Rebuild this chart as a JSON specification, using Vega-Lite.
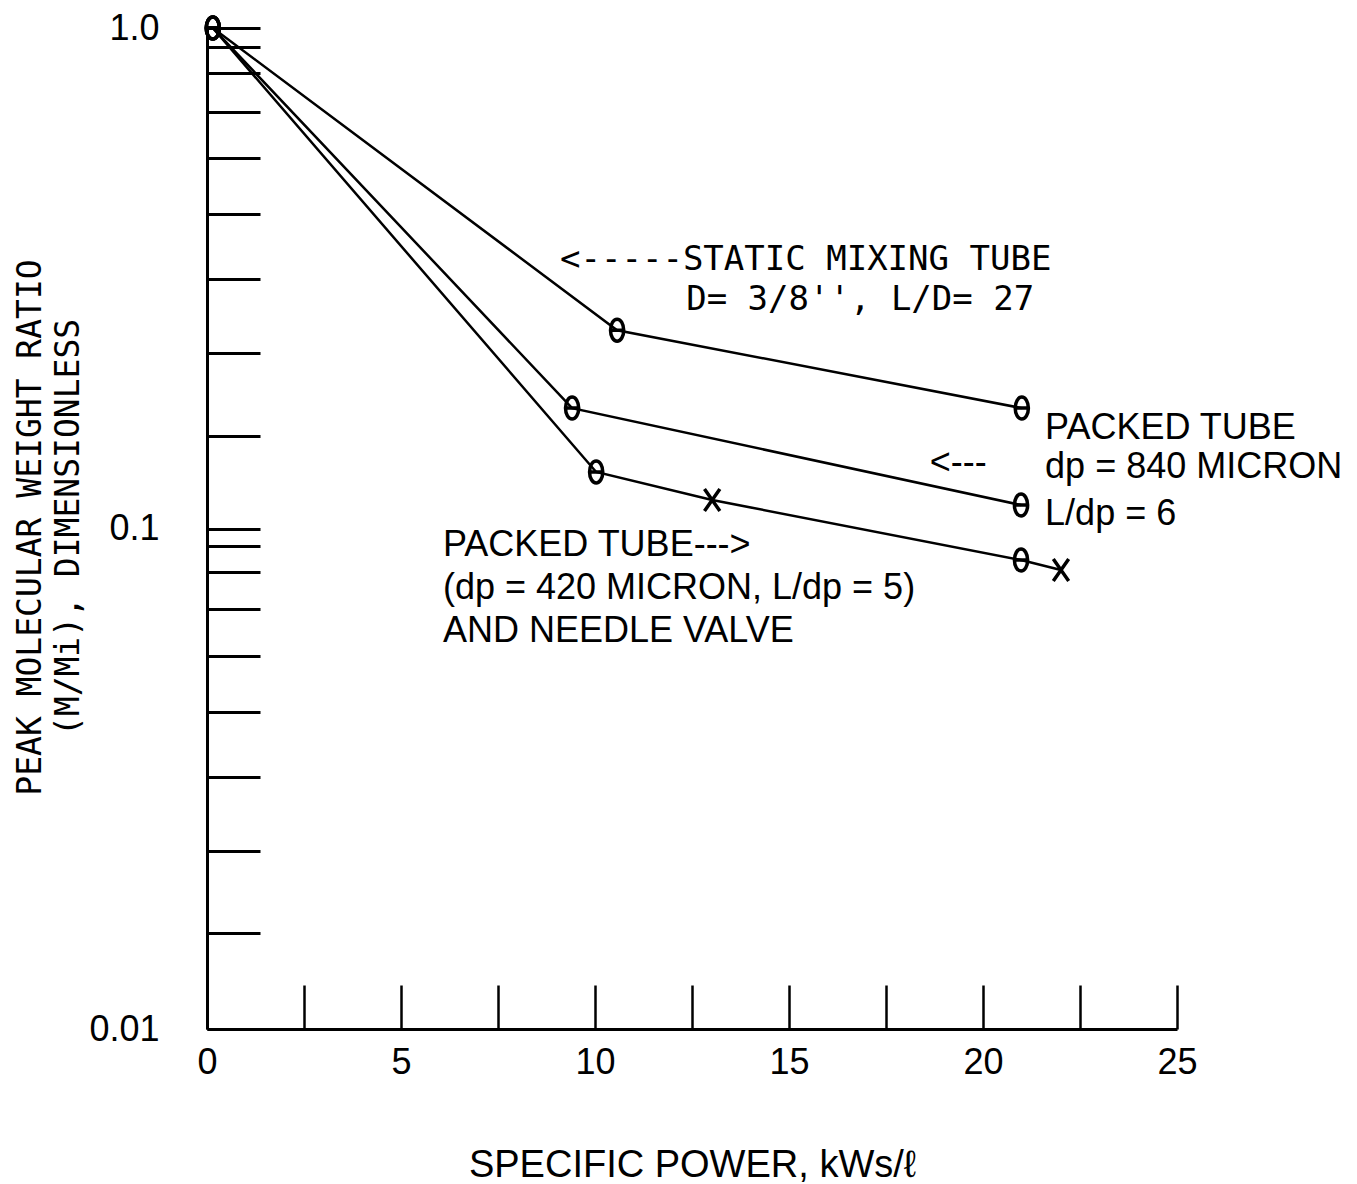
{
  "$schema": "https://vega.github.io/schema/vega-lite/v6.json",
  "width": 970,
  "height": 1001,
  "autosize": {"type": "none"},
  "padding": {"left": 207, "top": 28, "right": 180, "bottom": 155},
  "background": "white",
  "config": {"view": {"stroke": null}},
  "datasets": {
    "series": [
      {"series": "static", "x": 0.15, "y": 1.0, "marker": "o"},
      {"series": "static", "x": 10.57, "y": 0.249, "marker": "o"},
      {"series": "static", "x": 21.0, "y": 0.174, "marker": "o"},
      {"series": "p840", "x": 0.15, "y": 1.0, "marker": "o"},
      {"series": "p840", "x": 9.41, "y": 0.174, "marker": "o"},
      {"series": "p840", "x": 20.98, "y": 0.1114, "marker": "o"},
      {"series": "p420", "x": 0.15, "y": 1.0, "marker": "o"},
      {"series": "p420", "x": 10.03, "y": 0.1297, "marker": "o"},
      {"series": "p420", "x": 13.02, "y": 0.114, "marker": "x"},
      {"series": "p420", "x": 20.98, "y": 0.0865, "marker": "o"},
      {"series": "p420", "x": 22.01, "y": 0.0826, "marker": "x"}
    ],
    "notes": [
      {"font": "plot", "label": "<-----STATIC MIXING TUBE", "x": 9.1, "y": 0.344},
      {"font": "plot", "label": "D= 3/8'', L/D= 27", "x": 12.35, "y": 0.286},
      {"font": "sans", "label": "PACKED TUBE", "x": 21.6, "y": 0.1588},
      {"font": "sans", "label": "<---", "x": 18.63, "y": 0.135},
      {"font": "sans", "label": "dp = 840 MICRON", "x": 21.6, "y": 0.1327},
      {"font": "sans", "label": "L/dp = 6", "x": 21.6, "y": 0.1069},
      {"font": "sans", "label": "PACKED TUBE--->", "x": 6.08, "y": 0.0927},
      {"font": "sans", "label": "(dp = 420 MICRON, L/dp = 5)", "x": 6.08, "y": 0.076},
      {"font": "sans", "label": "AND NEEDLE VALVE", "x": 6.08, "y": 0.0624}
    ]
  },
  "layer": [
    {
      "data": {"name": "series"},
      "mark": {"type": "line", "color": "black", "strokeWidth": 2.5},
      "encoding": {
        "x": {
          "field": "x",
          "type": "quantitative",
          "scale": {"domain": [0, 25], "nice": false, "zero": false},
          "axis": {
            "values": [0, 2.5, 5, 7.5, 10, 12.5, 15, 17.5, 20, 22.5, 25],
            "labelExpr": "datum.value % 5 === 0 ? datum.label : ''",
            "grid": false,
            "domainColor": "black",
            "domainWidth": 3,
            "tickColor": "black",
            "tickWidth": 2.5,
            "tickSize": -44,
            "labelFont": "Liberation Sans",
            "labelFontSize": 36,
            "labelColor": "black",
            "labelPadding": 60,
            "labelFlush": false,
            "labelOverlap": false,
            "title": "SPECIFIC POWER, kWs/ℓ",
            "titleFont": "Liberation Sans",
            "titleFontSize": 38,
            "titleFontWeight": "normal",
            "titleColor": "black",
            "titleY": 136,
            "titleBaseline": "middle"
          }
        },
        "y": {
          "field": "y",
          "type": "quantitative",
          "scale": {"type": "log", "domain": [0.01, 1], "nice": false},
          "axis": {
            "values": [1, 0.918, 0.813, 0.681, 0.551, 0.4256, 0.3155, 0.2244, 0.1528, 0.1, 0.0923, 0.0817, 0.0689, 0.0555, 0.0429, 0.0319, 0.0227, 0.01556, 0.01],
            "labelExpr": "datum.value === 1 ? '1.0' : (datum.value === 0.1 ? '0.1' : (datum.value === 0.01 ? '0.01' : ''))",
            "grid": false,
            "domainColor": "black",
            "domainWidth": 3,
            "tickColor": "black",
            "tickWidth": 3,
            "tickSize": -53,
            "labelFont": "Liberation Sans",
            "labelFontSize": 36,
            "labelColor": "black",
            "labelPadding": 101,
            "labelBaseline": "middle",
            "labelFlush": false,
            "labelOverlap": false,
            "title": ["PEAK MOLECULAR WEIGHT RATIO", "(M/Mi), DIMENSIONLESS"],
            "titleFont": "DejaVu Sans Mono",
            "titleFontSize": 33,
            "titleFontWeight": "normal",
            "titleColor": "black",
            "titleAngle": -90,
            "titleX": -193,
            "titleY": 499,
            "titleAlign": "center",
            "titleBaseline": "top",
            "titleLineHeight": 38
          }
        },
        "detail": {"field": "series", "type": "nominal"}
      }
    },
    {
      "data": {"name": "series"},
      "mark": {"type": "point", "filled": false, "color": "black", "strokeWidth": 3.5, "size": 484, "opacity": 1},
      "encoding": {
        "x": {"field": "x", "type": "quantitative"},
        "y": {"field": "y", "type": "quantitative"},
        "shape": {
          "field": "marker",
          "type": "nominal",
          "scale": {
            "domain": ["o", "x"],
            "range": [
              "M -0.6 0 A 0.6 1 0 1 1 0.6 0 A 0.6 1 0 1 1 -0.6 0 M -0.6 0 L 0.6 0",
              "M -0.7 -1 L 0.7 1 M 0.7 -1 L -0.7 1"
            ]
          },
          "legend": null
        }
      }
    },
    {
      "data": {"name": "notes"},
      "transform": [{"filter": "datum.font === 'plot'"}],
      "mark": {"type": "text", "align": "left", "baseline": "middle", "font": "DejaVu Sans Mono", "fontSize": 34, "color": "black"},
      "encoding": {
        "x": {"field": "x", "type": "quantitative"},
        "y": {"field": "y", "type": "quantitative"},
        "text": {"field": "label", "type": "nominal"}
      }
    },
    {
      "data": {"name": "notes"},
      "transform": [{"filter": "datum.font === 'sans'"}],
      "mark": {"type": "text", "align": "left", "baseline": "middle", "font": "Liberation Sans", "fontSize": 36, "color": "black"},
      "encoding": {
        "x": {"field": "x", "type": "quantitative"},
        "y": {"field": "y", "type": "quantitative"},
        "text": {"field": "label", "type": "nominal"}
      }
    }
  ]
}
